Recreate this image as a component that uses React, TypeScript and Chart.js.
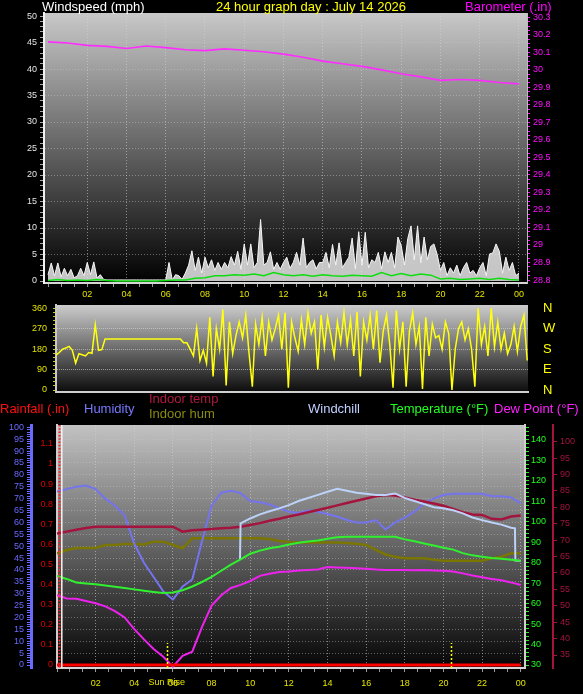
import React, { useEffect, useRef } from "react";
import { Chart, registerables } from "chart.js";

Chart.register(...registerables);

const FONT = '"Liberation Sans", Arial, Helvetica, sans-serif';
Chart.defaults.font.family = FONT;
Chart.defaults.font.size = 9;
Chart.defaults.color = "#cccccc";

// ---------------- time axis ----------------
const labelHours = [2, 4, 6, 8, 10, 12, 14, 16, 18, 20, 22, 24];
const hourLabels = ["02", "04", "06", "08", "10", "12", "14", "16", "18", "20", "22", "00"];
const sunriseHour = 5.68;
const sunsetHour = 20.37;

// ---------------- windspeed / barometer ----------------
// barometer, hourly 00:00 .. 24:00
const baroValues = [
  30.16, 30.153, 30.14, 30.134, 30.122, 30.136, 30.127, 30.115, 30.11, 30.12, 30.112, 30.103,
  30.09, 30.072, 30.05, 30.035, 30.02, 30.0, 29.978, 29.96, 29.94, 29.945, 29.94, 29.928, 29.92,
];
// average wind speed, every 30 min
const windAvg = [
  0.1, 0.3, 0.1, 0.2, 0.1, 0.3, 0.1, 0.0,
  0.0, 0.0, 0.0, 0.0, 0.1, 0.2, 0.2, 0.5,
  0.6, 1.0, 1.0, 1.2, 1.1, 1.3, 1.0, 1.6,
  1.2, 1.0, 1.2, 0.9, 1.2, 1.0, 0.9, 1.1,
  1.0, 0.9, 1.6, 1.0, 1.4, 1.0, 1.3, 1.1,
  0.4, 0.5, 0.3, 0.4, 0.5, 0.3, 0.5, 0.3,
  0.2,
];
// wind gust, every 10 min
const windGust = [
  1.2, 3.4, 1.0, 3.4, 0.8, 2.4,
  1.0, 2.2, 0.6, 1.0, 2.4, 1.0,
  3.5, 1.2, 3.6, 0.6, 1.2, 0.3,
  0.2, 0.2, 0.2, 0.2, 0.2, 0.2,
  0.2, 0.2, 0.2, 0.2, 0.2, 0.2,
  0.2, 0.2, 0.2, 0.2, 0.2, 0.2,
  0.2, 3.5, 0.2, 1.2, 1.0, 0.3,
  1.5, 3.0, 5.7, 2.0, 4.5, 1.5,
  4.5, 2.5, 4.0, 2.0, 3.5, 2.2,
  3.5, 2.5, 4.6, 3.0, 5.6, 2.2,
  7.0, 3.0, 7.0, 2.5, 3.5, 11.6,
  3.0, 3.5, 5.5, 2.2, 3.5, 2.2,
  3.5, 4.5, 2.4, 3.5, 5.4, 3.0,
  8.1, 2.5, 3.5, 4.0, 2.3, 3.5,
  3.5, 5.4, 2.5, 6.9, 3.0, 7.2,
  2.5, 3.5, 4.5, 8.1, 2.3, 9.3,
  3.0, 9.2, 2.5, 4.0, 3.5, 5.4,
  2.3, 5.5, 3.5, 5.4, 2.5, 8.3,
  6.7, 3.0, 8.0, 10.4, 4.0, 10.4,
  3.5, 8.3, 4.0, 6.5, 7.0, 5.0,
  2.0, 3.5, 1.0, 2.5, 1.5, 3.0,
  1.0, 2.5, 3.5, 1.5, 2.0, 1.0,
  2.5, 3.5, 1.0, 5.1, 5.3, 7.0,
  5.6, 1.5, 4.5, 2.0, 3.5, 1.0,
  1.5,
];

// ---------------- wind direction, every 10 min from 00:24 ----------------
const dirStartHour = 0.4;
const windDir = [
  154, 165, 180, 185, 192, 175, 118, 160, 155, 150, 165, 162, 288, 175, 178,
  225, 225, 225, 225, 225, 225, 225, 225, 225, 225, 225, 225,
  225, 225, 225, 225, 225, 225, 225, 225, 225, 225, 225, 225,
  208, 208,
  180, 150, 272, 130, 175, 118,
  320, 60, 270, 180, 355, 20, 300, 160, 240, 300,
  230, 330, 160, 15, 290, 200, 320, 150, 300, 220,
  270, 330, 180, 340, 10, 300, 230, 170, 310, 200,
  340, 250, 300, 90, 330, 190, 320, 240, 150, 300,
  210, 340, 200, 310, 150, 345, 60, 300, 220, 330,
  180, 350, 120, 260, 330, 200, 10, 350, 180, 300,
  15, 260, 340, 200, 280, 5, 320, 150, 290, 230,
  240, 180, 300, 250, 0, 180, 270, 300, 220, 270,
  180, 15, 360, 200, 280, 150, 360, 190, 300, 180,
  250, 160, 200, 280, 170, 280, 330, 130,
];
const compassDegrees = [0, 90, 180, 270, 360];
const compassLabels = ["N", "E", "S", "W", "N"];

// ---------------- temperature / humidity, every 30 min ----------------
const humidity = [
  73, 74, 75, 75.5, 74, 70, 67, 63, 51, 43,
  37, 31, 27.5, 33, 36, 52, 67, 72.5, 73.3, 72.3,
  69, 68.5, 67.5, 66, 64.5, 64, 65, 64.5, 63.5, 62.5,
  61, 60, 60, 61, 57, 60, 62, 64.5, 68, 70,
  71.5, 72, 72, 72, 72, 71, 71, 70.5, 68,
];
const indoorTemp = [
  72, 72.6, 73.2, 73.7, 74.1, 74.1, 74.1, 74.1, 74.1, 74.1,
  74.1, 74.1, 74.1, 72.6, 73, 73.2, 73.4, 73.6, 73.8, 74.1,
  74.6, 75.2, 75.9, 76.5, 77.2, 77.8, 78.5, 79.2, 79.9, 80.6,
  81.3, 82, 82.7, 83.4, 83.8, 83.6, 83, 82.3, 81.8, 81.2,
  80.5, 79.5, 78.5, 77.8, 77.7, 76.5, 76.3, 77.2, 77.5,
];
const indoorHum = [
  47, 48.4, 49.2, 49.2, 49.2, 50.5, 50.5, 50.9, 50.9, 50.7,
  51.9, 51.9, 50.5, 49.1, 53.3, 53.3, 53.3, 53.3, 53.3, 53.3,
  53.3, 53.3, 53, 52.2, 51.8, 51.5, 51.5, 51.5, 51.5, 51.5,
  51.3, 51, 50.5, 48.4, 46.5, 45.5, 44.9, 44.9, 44.9, 44.3,
  43.9, 43.9, 43.9, 43.9, 43.9, 44.9, 45.5, 47, 47,
];
const temperature = [
  73.5, 72, 70.3, 69.8, 69.4, 68.8, 68.2, 67.6, 66.9, 66.2,
  65.6, 65.1, 65.4, 66.5, 68.3, 70.5, 73, 76, 79, 81.5,
  84.3, 85.8, 87, 87.7, 88.8, 89.7, 90.3, 90.8, 91.6, 92.3,
  92.6, 92.6, 92.6, 92.6, 92.6, 92.6, 91.3, 90.4, 89.3, 88.3,
  87.2, 86.3, 84.6, 83.5, 82.8, 82.2, 81.8, 81.3, 80.9,
];
const dewPoint = [
  64, 62.5, 62.3, 61.2, 60.1, 58.6, 56.3, 53.2, 47.5, 42.5,
  37.8, 34, 29.2, 34.5, 36.5, 48.5, 59, 64, 67.6, 69.1,
  71, 73.5, 74.5, 75.4, 75.6, 76.1, 76.3, 76.6, 77.8, 77.6,
  77.5, 77.2, 77, 76.6, 76.4, 76.3, 76.4, 76.2, 76.3, 76.1,
  76, 75.6, 74.7, 73.7, 72.8, 72, 71.3, 70.3, 69,
];
// rainfall, hourly
const rainfall = [0, 0, 0, 0, 0, 0, 0, 0, 0, 0, 0, 0, 0, 0, 0, 0, 0, 0, 0, 0, 0, 0, 0, 0, 0];
const windchillHours = [
  9.47, 9.5, 10, 10.5, 11, 11.5, 12, 12.5, 13, 13.5, 14, 14.5, 15, 15.5, 16, 16.5,
  17, 17.5, 18, 18.5, 19, 19.5, 20, 20.5, 21, 21.5, 22, 22.5, 23, 23.5, 23.7, 23.72, 24,
];
const windchill = [
  81.2, 99.1, 101.5, 103.5, 105, 106.4, 108, 110, 111.5, 113, 114.5, 116, 115, 114, 113.5, 113,
  113, 113.7, 111.5, 110, 108.5, 107, 106.5, 105.5, 104, 102, 100.7, 99.5, 98.5, 97, 96.7, 81, 80.9,
];

// ---------------- helpers ----------------
const near = (a: number, b: number) => Math.abs(a - b) < 1e-6;
const hourLabel = (v: number) => {
  const i = labelHours.findIndex((h) => near(h, v));
  return i >= 0 ? hourLabels[i] : "";
};
const isLabelHour = (v: number) => labelHours.some((h) => near(h, v));
const seq = (from: number, to: number, step: number) => {
  const out: number[] = [];
  for (let k = 0; from + k * step <= to + 1e-9; k++) out.push(from + k * step);
  return out;
};
const setTicks = (vals: number[]) => (scale: any) => {
  scale.ticks = vals.map((value) => ({ value }));
};
const pts = (vals: number[], start: number, step: number) =>
  vals.map((y, i) => ({ x: start + i * step, y }));
const fixWidth = (w: number) => (s: any) => {
  s.width = w;
};
const fixHeight = (h: number) => (s: any) => {
  s.height = h;
};

const plotBackground = {
  id: "plotBackground",
  beforeDraw(chart: any, _args: any, opts: any) {
    const { ctx, chartArea: a } = chart;
    if (!a) return;
    const g = ctx.createLinearGradient(0, a.top, 0, a.bottom);
    g.addColorStop(0, opts.top);
    g.addColorStop(1, opts.bottom);
    ctx.save();
    ctx.fillStyle = g;
    ctx.fillRect(a.left, a.top, a.right - a.left, a.bottom - a.top);
    ctx.restore();
  },
};

function timeAxis(min: number, max: number, height: number, pad: number) {
  return {
    type: "linear",
    min,
    max,
    afterBuildTicks: setTicks(seq(0, 24, 2 / 3)),
    afterFit: fixHeight(height),
    ticks: {
      autoSkip: false,
      maxRotation: 0,
      minRotation: 0,
      color: "#e4e400",
      font: { size: 9 },
      padding: pad,
      callback: (v: any) => hourLabel(Number(v)),
    },
    grid: {
      color: (c: any) =>
        c.tick && isLabelHour(c.tick.value) ? "rgba(215,215,215,0.55)" : "rgba(0,0,0,0)",
      tickColor: "#9a9a9a",
      tickLength: 4,
      lineWidth: 1,
    },
    border: { color: "#d6d6d6", width: 2, dash: [1, 2] },
  };
}

const baseOptions = {
  animation: false,
  responsive: false,
  maintainAspectRatio: false,
  events: [],
};

function makeWindChart(canvas: HTMLCanvasElement) {
  return new Chart(canvas, {
    type: "line",
    data: {
      datasets: [
        {
          label: "Barometer",
          data: pts(baroValues, 0, 1),
          yAxisID: "baro",
          borderColor: "#ff2cff",
          borderWidth: 1.6,
          pointRadius: 0,
          order: 0,
        },
        {
          label: "Average",
          data: pts(windAvg, 0, 0.5),
          yAxisID: "wind",
          borderColor: "#10dd10",
          borderWidth: 1.5,
          pointRadius: 0,
          order: 1,
        },
        {
          label: "Gust",
          data: pts(windGust, 0, 1 / 6),
          yAxisID: "wind",
          borderColor: "#f6f6f6",
          borderWidth: 1,
          fill: "origin",
          backgroundColor: "rgba(232,232,232,0.85)",
          pointRadius: 0,
          order: 2,
        },
      ],
    },
    options: {
      ...baseOptions,
      layout: { padding: { top: 13, left: 0, right: 0, bottom: 0 } },
      plugins: {
        legend: { display: false },
        tooltip: { enabled: false },
        plotBackground: { top: "#c8c8c8", bottom: "#000000" },
      },
      scales: {
        x: timeAxis(-0.204, 24.41, 17, 2),
        wind: {
          position: "left",
          min: -0.377,
          max: 50.57,
          afterBuildTicks: setTicks(seq(0, 50, 1)),
          afterFit: fixWidth(44),
          ticks: {
            autoSkip: false,
            color: "#e4e4e4",
            font: { size: 9 },
            padding: 3,
            callback: (v: any) => (Number(v) % 5 === 0 ? String(v) : ""),
          },
          grid: {
            color: (c: any) =>
              c.tick && c.tick.value % 5 === 0 && c.tick.value > 0 && c.tick.value < 50
                ? "rgba(205,205,205,0.45)"
                : "rgba(0,0,0,0)",
            tickColor: "#a8a8a8",
            tickLength: 4,
          },
          border: { color: "#f2f2f2", width: 2, dash: [1, 2] },
        },
        baro: {
          position: "right",
          min: 28.783,
          max: 30.3246,
          afterBuildTicks: setTicks(seq(0, 60, 1).map((k) => (1152 + k) / 40)),
          afterFit: fixWidth(56),
          ticks: {
            autoSkip: false,
            color: "#ff10ff",
            font: { size: 9 },
            padding: 3,
            callback: (v: any) => {
              const t = Number(v) * 10;
              return near(t, Math.round(t)) ? String(Math.round(t) / 10) : "";
            },
          },
          grid: { drawOnChartArea: false, tickColor: "#ff10ff", tickLength: 3 },
          border: { color: "#bdbdbd", width: 1 },
        },
      },
    },
    plugins: [plotBackground],
  } as any);
}

function makeDirChart(canvas: HTMLCanvasElement) {
  return new Chart(canvas, {
    type: "line",
    data: {
      datasets: [
        {
          label: "Direction",
          data: pts(windDir, dirStartHour, 1 / 6),
          yAxisID: "dir",
          borderColor: "#ffff10",
          borderWidth: 1.5,
          pointRadius: 0,
        },
      ],
    },
    options: {
      ...baseOptions,
      layout: { padding: { top: 12, left: 0, right: 0, bottom: 0 } },
      plugins: {
        legend: { display: false },
        tooltip: { enabled: false },
        plotBackground: { top: "#cccccc", bottom: "#0c0c0c" },
      },
      scales: {
        x: {
          type: "linear",
          min: 0.4,
          max: 24.44,
          afterFit: fixHeight(12),
          ticks: { display: false },
          grid: { display: false, drawTicks: false },
          border: { display: true, color: "#cfcfcf", width: 2 },
        },
        dir: {
          position: "left",
          min: -8.8,
          max: 374.5,
          afterBuildTicks: setTicks(seq(0, 360, 18)),
          afterFit: fixWidth(56),
          ticks: {
            autoSkip: false,
            color: "#e2e200",
            font: { size: 9 },
            padding: 6,
            callback: (v: any) => (Number(v) % 90 === 0 ? String(v) : ""),
          },
          grid: {
            color: (c: any) =>
              c.tick && c.tick.value % 90 === 0 && c.tick.value > 0 && c.tick.value < 360
                ? "rgba(225,225,225,0.55)"
                : "rgba(0,0,0,0)",
            tickColor: "#cccc00",
            tickLength: 3,
          },
          border: { color: "#c8c8c8", width: 2, dash: [1, 1] },
        },
        compass: {
          position: "right",
          min: -8.8,
          max: 374.5,
          afterBuildTicks: setTicks(compassDegrees),
          afterFit: fixWidth(55),
          ticks: {
            autoSkip: false,
            color: "#ffff00",
            font: { size: 13 },
            padding: 0,
            callback: (v: any) => {
              const i = compassDegrees.indexOf(Number(v));
              return i >= 0 ? compassLabels[i] : "";
            },
          },
          grid: {
            display: true,
            drawOnChartArea: false,
            drawTicks: true,
            tickLength: 15,
            tickColor: "rgba(0,0,0,0)",
          },
          border: { display: false },
        },
      },
    },
    plugins: [plotBackground],
  } as any);
}

const tempExtras = {
  id: "tempExtras",
  afterDatasetsDraw(chart: any) {
    const { ctx, chartArea: a, scales } = chart;
    const x = scales.x;
    ctx.save();
    // rain axis dotted edge and white edge line
    ctx.strokeStyle = "#ff2020";
    ctx.lineWidth = 2;
    ctx.setLineDash([1.5, 1.8]);
    ctx.beginPath();
    ctx.moveTo(a.left + 2.5, a.top);
    ctx.lineTo(a.left + 2.5, a.bottom);
    ctx.stroke();
    ctx.setLineDash([]);
    ctx.strokeStyle = "#f4f4f4";
    ctx.lineWidth = 1.5;
    ctx.beginPath();
    ctx.moveTo(a.left + 4.8, a.top);
    ctx.lineTo(a.left + 4.8, a.bottom);
    ctx.stroke();
    // sunrise / sunset markers
    ctx.strokeStyle = "#ffff00";
    ctx.lineWidth = 1.5;
    ctx.setLineDash([2, 2]);
    for (const h of [sunriseHour, sunsetHour]) {
      const px = Math.round(x.getPixelForValue(h)) + 0.5;
      ctx.beginPath();
      ctx.moveTo(px, a.bottom);
      ctx.lineTo(px, a.bottom - 25);
      ctx.stroke();
    }
    ctx.setLineDash([]);
    ctx.fillStyle = "#e4e400";
    ctx.font = `9px ${FONT}`;
    ctx.textAlign = "center";
    ctx.textBaseline = "top";
    ctx.fillText("Sun Rise", x.getPixelForValue(sunriseHour), a.bottom + 10);
    ctx.restore();
  },
};

function makeTempChart(canvas: HTMLCanvasElement) {
  const line = (label: string, data: any[], axis: string, color: string, width: number, order: number) => ({
    label,
    data,
    yAxisID: axis,
    borderColor: color,
    borderWidth: width,
    pointRadius: 0,
    order,
  });
  return new Chart(canvas, {
    type: "line",
    data: {
      datasets: [
        line("Rainfall", pts(rainfall, 0, 1), "rain", "#ff0000", 3, 0),
        line("Dew Point", pts(dewPoint, 0, 0.5), "temp", "#ee22ee", 2, 1),
        line("Temperature", pts(temperature, 0, 0.5), "temp", "#30f030", 2, 2),
        line(
          "Windchill",
          windchill.map((y, i) => ({ x: windchillHours[i], y })),
          "temp",
          "#bcd2f8",
          2,
          3
        ),
        line("Indoor temp", pts(indoorTemp, 0, 0.5), "indoor", "#a3153f", 2.5, 4),
        line("Humidity", pts(humidity, 0, 0.5), "hum", "#7474ee", 2, 5),
        line("Indoor hum", pts(indoorHum, 0, 0.5), "hum", "#7a7600", 2.5, 6),
      ],
    },
    options: {
      ...baseOptions,
      layout: { padding: { top: 10, left: 0, right: 0, bottom: 0 } },
      plugins: {
        legend: { display: false },
        tooltip: { enabled: false },
        plotBackground: { top: "#c2c2c2", bottom: "#050505" },
      },
      scales: {
        x: timeAxis(0, 24.22, 26, 6),
        rain: {
          position: "left",
          weight: 0,
          min: -0.0149,
          max: 1.194,
          afterBuildTicks: setTicks(seq(0, 11, 1).map((k) => k / 10)),
          afterFit: fixWidth(26),
          ticks: {
            autoSkip: false,
            color: "#e00000",
            font: { size: 9 },
            padding: 0,
            callback: (v: any) => String(Math.round(Number(v) * 10) / 10),
          },
          grid: {
            drawOnChartArea: false,
            drawTicks: true,
            tickLength: 4,
            tickColor: "rgba(0,0,0,0)",
          },
          border: { color: "#cfcfcf", width: 2 },
        },
        hum: {
          position: "left",
          weight: 1,
          min: -1.26,
          max: 100.97,
          afterBuildTicks: setTicks(seq(0, 100, 1)),
          afterFit: fixWidth(31),
          ticks: {
            autoSkip: false,
            color: "#6a6aff",
            font: { size: 9 },
            padding: 3,
            callback: (v: any) => (Number(v) % 5 === 0 ? String(v) : ""),
          },
          grid: {
            color: (c: any) =>
              c.tick && c.tick.value % 5 === 0 && c.tick.value > 0 && c.tick.value < 100
                ? "rgba(205,205,205,0.42)"
                : "rgba(0,0,0,0)",
            tickColor: "#6a6aff",
            tickLength: 4,
          },
          border: { color: "#6a6aff", width: 3, dash: [1, 2] },
        },
        temp: {
          position: "right",
          weight: 0,
          min: 28.54,
          max: 147.1,
          afterBuildTicks: setTicks(seq(30, 146, 2)),
          afterFit: fixWidth(28),
          ticks: {
            autoSkip: false,
            color: "#20ff20",
            font: { size: 9 },
            padding: 2,
            callback: (v: any) => {
              const n = Number(v);
              return (n - 30) % 10 === 0 && n <= 140 ? String(n) : "";
            },
          },
          grid: { drawOnChartArea: false, tickColor: "#20ee20", tickLength: 4 },
          border: { color: "#cfcfcf", width: 2 },
        },
        indoor: {
          position: "right",
          weight: 1,
          min: 31.04,
          max: 105.1,
          afterBuildTicks: setTicks(seq(35, 100, 5)),
          afterFit: fixWidth(30),
          ticks: {
            autoSkip: false,
            color: "#a3153f",
            font: { size: 9 },
            padding: 3,
            callback: (v: any) => String(v),
          },
          grid: { drawOnChartArea: false, tickColor: "#a3153f", tickLength: 4 },
          border: { color: "#a3153f", width: 2 },
        },
      },
    },
    plugins: [plotBackground, tempExtras],
  } as any);
}

const textStyle = (left: number, top: number, color: string): React.CSSProperties => ({
  position: "absolute",
  left,
  top,
  color,
  fontSize: 13,
  lineHeight: "14px",
  whiteSpace: "nowrap",
  fontFamily: FONT,
});

export default function App() {
  const r1 = useRef<HTMLCanvasElement>(null);
  const r2 = useRef<HTMLCanvasElement>(null);
  const r3 = useRef<HTMLCanvasElement>(null);

  useEffect(() => {
    const charts = [
      makeWindChart(r1.current as HTMLCanvasElement),
      makeDirChart(r2.current as HTMLCanvasElement),
      makeTempChart(r3.current as HTMLCanvasElement),
    ];
    return () => charts.forEach((c) => c.destroy());
  }, []);

  return (
    <div
      style={{
        position: "absolute",
        left: 0,
        top: 0,
        width: 583,
        height: 694,
        background: "#000",
        overflow: "hidden",
      }}
    >
      <canvas ref={r1} width={583} height={300} style={{ position: "absolute", left: 0, top: 0, width: 583, height: 300 }} />
      <canvas ref={r2} width={583} height={111} style={{ position: "absolute", left: 0, top: 293, width: 583, height: 111 }} />
      <canvas ref={r3} width={583} height={279} style={{ position: "absolute", left: 0, top: 415, width: 583, height: 279 }} />

      <div style={textStyle(42, 0, "#ffffff")}>Windspeed (mph)</div>
      <div style={textStyle(216, 0, "#ffff00")}>24 hour graph day : July 14 2026</div>
      <div style={textStyle(465, 0, "#ff00ff")}>Barometer (.in)</div>

      <div style={textStyle(0, 402, "#ff1010")}>Rainfall (.in)</div>
      <div style={textStyle(84, 402, "#7878ff")}>Humidity</div>
      <div style={textStyle(149, 392, "#b01840")}>Indoor temp</div>
      <div style={textStyle(149, 407, "#8a8a10")}>Indoor hum</div>
      <div style={textStyle(308, 402, "#c0d0ff")}>Windchill</div>
      <div style={textStyle(390, 402, "#20ff20")}>Temperature (°F)</div>
      <div style={textStyle(494, 402, "#ff20ff")}>Dew Point (°F)</div>
    </div>
  );
}
